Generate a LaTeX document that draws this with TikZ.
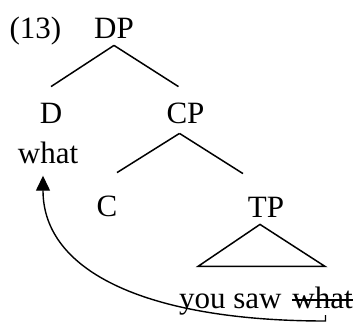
\documentclass[tikz,border=0pt]{standalone}
\usepackage{fontspec}
\setmainfont{Liberation Serif}
\usetikzlibrary{arrows.meta, positioning, calc}

\begin{document}
\begin{tikzpicture}[
    x=0.5pt, y=-0.5pt,
    font=\fontsize{15.5pt}{18pt}\selectfont,
    word/.style={inner sep=0pt, anchor=base},
    cat/.style={inner sep=0pt, anchor=base, text height=18pt, text depth=3.5pt},
    lowcat/.style={cat, text height=21.5pt},
    branch/.style={line width=0.75pt},
    move/.style={-{Triangle[length=7.5pt, width=7pt]}, line width=0.7pt},
]
    \useasboundingbox (0,0) rectangle (355,323);

    % Example number and root
    \node[word] (num) at (35.5,38) {(13)};
    \node[cat] (dp) at (114,38) {DP};

    % First level
    \node[cat] (d) at (51,123) {D};
    \node[word] (wh) at (48,163) {what};
    \node[cat] (cp) at (185.5,123) {CP};

    % Second level
    \node[lowcat] (c) at (107,216) {C};
    \node[lowcat] (tp) at (266,217) {TP};

    % Terminal string
    \node[word] (trace) at (322.5,308) {what};
    \node[word, base left=5pt of trace] (yield) {you saw};

    % Branches
    \draw[branch] (dp.south) -- (d.north);
    \draw[branch] (dp.south) -- ($(cp.north)+(-7,0)$);
    \draw[branch] ($(cp.south)+(-6,3)$) -- ($(c.north)+(10,0)$);
    \draw[branch] ($(cp.south)+(-6,3)$) -- ($(tp.north)+(-23,0)$);
    \draw[branch] ($(tp.south)+(-6,0)$) -- ++(-62,42) -- ++(127,0) -- cycle;

    % Struck-out copy
    \draw[line width=0.6pt] ($(trace.base west)+(0,-8)$) -- ($(trace.base east)+(0,-8)$);

    % Movement
    \draw[move] ($(trace.base)+(3,7)$) -- ++(0,6) .. controls (150,321) and (43,273) .. ($(wh.south)+(-5,12)$);
\end{tikzpicture}
\end{document}
